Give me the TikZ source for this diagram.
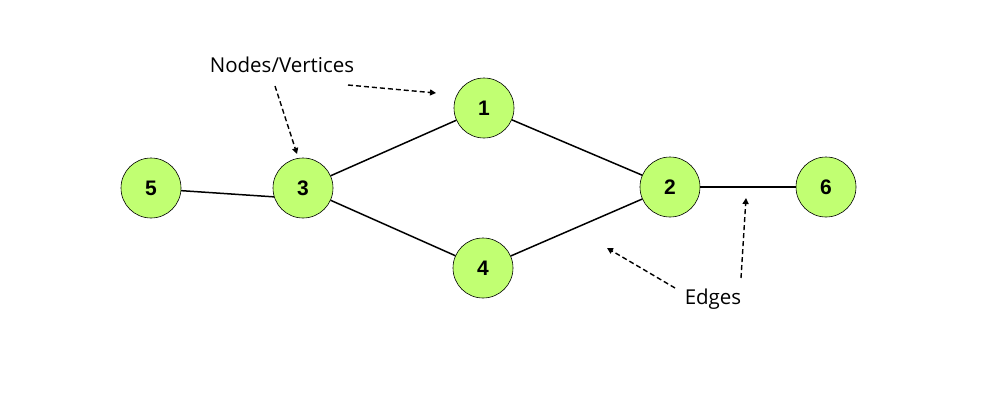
\documentclass[tikz,border=0pt]{standalone}
\usepackage{fontspec}
\setmainfont{Open Sans}
\newfontfamily\numfont{Liberation Sans}
\usetikzlibrary{arrows.meta}
\definecolor{vgreen}{HTML}{C1FF72}
\tikzset{
  vertex/.style={circle, draw=black, line width=0.6pt, fill=vgreen, minimum size=60pt, inner sep=0pt,
    font=\numfont\fontsize{21}{24}\selectfont\bfseries},
  edgeline/.style={line width=1.5pt, black},
  pointer/.style={line width=1.4pt, dash pattern=on 5pt off 3pt, -{Triangle[length=6pt,width=6pt]}},
  caption/.style={font=\fontsize{20.5}{24}\selectfont, inner sep=0pt}
}
\begin{document}
\begin{tikzpicture}[x=1pt,y=-1pt]
  \useasboundingbox (0,0) rectangle (1000,400);
  % vertices
  \node[vertex] (v5) at (151,188) {5};
  \node[vertex] (v3) at (303,188) {3};
  \node[vertex] (v1) at (484,108) {1};
  \node[vertex] (v4) at (483,268) {4};
  \node[vertex] (v2) at (670,187) {2};
  \node[vertex] (v6) at (826,187) {6};
  % edges
  \draw[edgeline] (v5.-5) -- (v3.197);
  \draw[edgeline] (v3) -- (v1);
  \draw[edgeline] (v3) -- (v4);
  \draw[edgeline] (v1) -- (v2);
  \draw[edgeline] (v4) -- (v2);
  \draw[edgeline] (v2) -- (v6);
  % labels
  \node[caption] (lblv) at (282,65) {Nodes/Vertices};
  \node[caption] (lble) at (713,299) {Edges};
  % pointer arrows
  \coordinate (a1s) at (275,86);  \coordinate (a1e) at (297,154);
  \coordinate (a2s) at (348,85);  \coordinate (a2e) at (436,93);
  \coordinate (a3s) at (675,288); \coordinate (a3e) at (607,248);
  \coordinate (a4s) at (741,278); \coordinate (a4e) at (746,198);
  \draw[pointer] (a1s) -- (a1e);
  \draw[pointer] (a2s) -- (a2e);
  \draw[pointer] (a3s) -- (a3e);
  \draw[pointer] (a4s) -- (a4e);
\end{tikzpicture}
\end{document}
